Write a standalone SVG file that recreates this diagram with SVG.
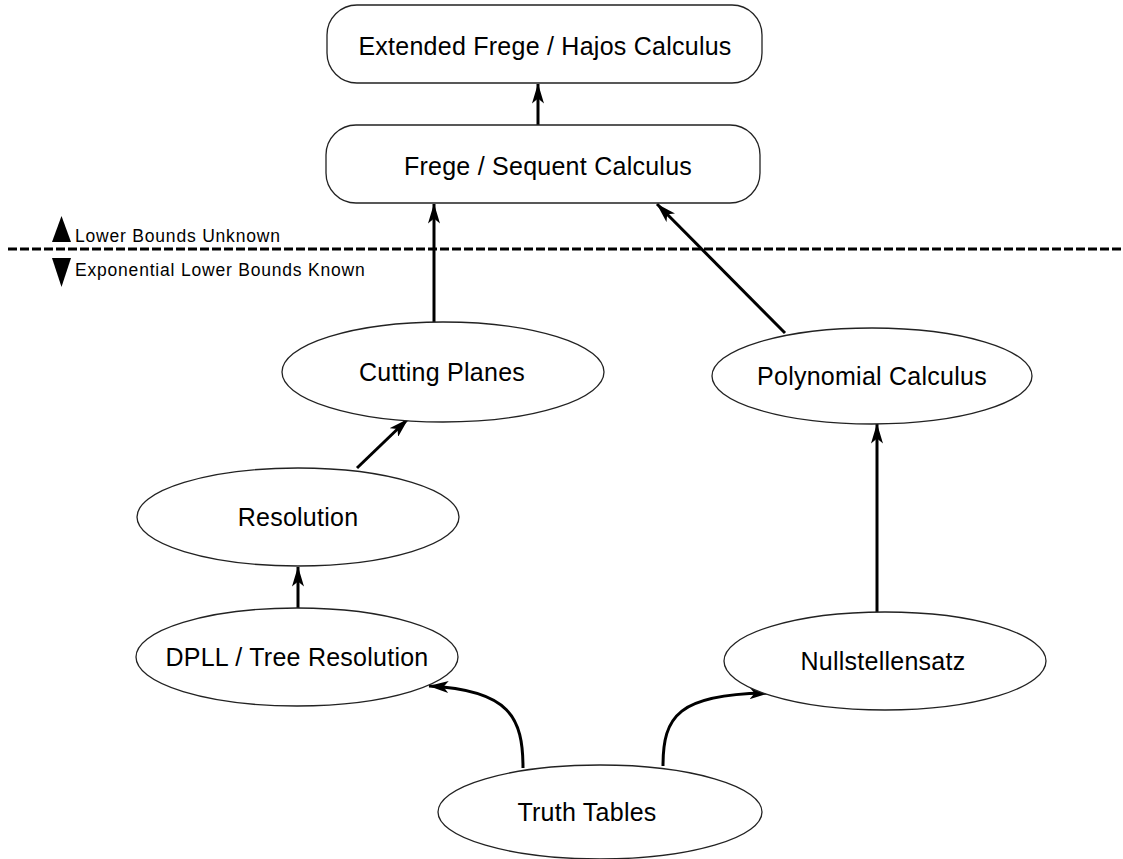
<svg xmlns="http://www.w3.org/2000/svg" width="1123" height="859" viewBox="0 0 1123 859">
<style>
.n{fill:#fff;stroke:#222;stroke-width:1.3}
.t{font-family:"Liberation Sans",Arial,sans-serif;font-size:25px;letter-spacing:0.25px;fill:#000;text-anchor:middle}
.s{font-family:"Liberation Sans",Arial,sans-serif;font-size:17.5px;letter-spacing:0.8px;fill:#000}
.e{fill:none;stroke:#000;stroke-width:3}
</style>
<defs>
<marker id="ah" viewBox="0 0 20 12" refX="19.5" refY="6" markerWidth="20" markerHeight="12" markerUnits="userSpaceOnUse" orient="auto">
<path d="M0,0 L20,6 L0,12 L5,6 Z" fill="#000"/>
</marker>
</defs>
<rect width="1123" height="859" fill="#fff"/>
<g id="legend">
<line x1="8" y1="249" x2="1123" y2="249" stroke="#000" stroke-width="3" stroke-dasharray="9,3"/>
<polygon points="61.5,216 71,242 52,242" fill="#000"/>
<text class="s" x="75" y="242">Lower Bounds Unknown</text>
<polygon points="52,258 71,258 61.5,287" fill="#000"/>
<text class="s" x="75" y="276">Exponential Lower Bounds Known</text>
</g>
<g id="connectors">
<path class="e" d="M538,125 L538,84" marker-end="url(#ah)"/>
<path class="e" d="M434,322 L434,204" marker-end="url(#ah)"/>
<path class="e" d="M785,333 L657,204" marker-end="url(#ah)"/>
<path class="e" d="M357,468 L408,419" marker-end="url(#ah)"/>
<path class="e" d="M298,608 L298,567" marker-end="url(#ah)"/>
<path class="e" d="M877,612 L877,424" marker-end="url(#ah)"/>
<path class="e" d="M523,768 C523,718 510,690 429,686" marker-end="url(#ah)"/>
<path class="e" d="M663,766 C663,716 678,694 769,693" marker-end="url(#ah)"/>
</g>
<g id="extended">
<rect class="n" x="327" y="5" width="435" height="78" rx="30"/>
<text class="t" x="545" y="55">Extended Frege / Hajos Calculus</text>
</g>
<g id="frege">
<rect class="n" x="326" y="125" width="434" height="78" rx="30"/>
<text class="t" x="548" y="175">Frege / Sequent Calculus</text>
</g>
<g id="cutting">
<ellipse class="n" cx="443" cy="372" rx="161" ry="50"/>
<text class="t" x="442" y="381">Cutting Planes</text>
</g>
<g id="polynomial">
<ellipse class="n" cx="872" cy="376" rx="160" ry="48"/>
<text class="t" x="872" y="385">Polynomial Calculus</text>
</g>
<g id="resolution">
<ellipse class="n" cx="298" cy="517" rx="161" ry="49"/>
<text class="t" x="298" y="526">Resolution</text>
</g>
<g id="dpll">
<ellipse class="n" cx="297" cy="657" rx="161" ry="49"/>
<text class="t" x="297" y="666">DPLL / Tree Resolution</text>
</g>
<g id="nullstellensatz">
<ellipse class="n" cx="885" cy="661" rx="161" ry="49"/>
<text class="t" x="883" y="670">Nullstellensatz</text>
</g>
<g id="truth">
<ellipse class="n" cx="600" cy="812" rx="162" ry="47"/>
<text class="t" x="587" y="821">Truth Tables</text>
</g>
</svg>
